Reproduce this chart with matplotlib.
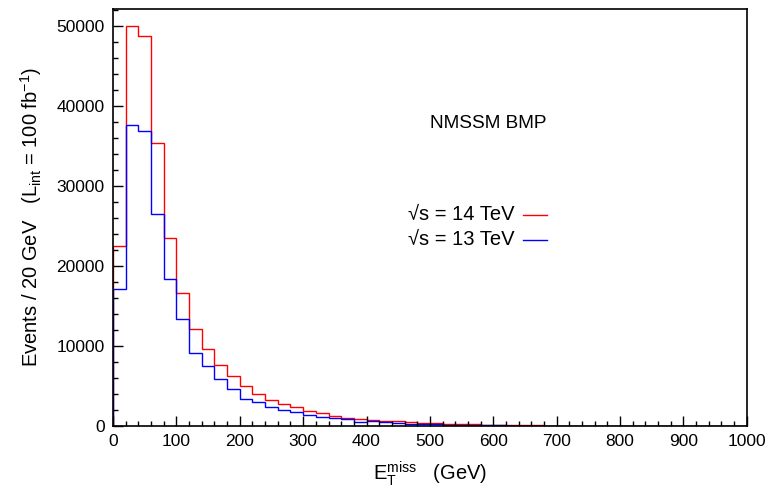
import numpy as np
import matplotlib.pyplot as plt
from matplotlib.ticker import MultipleLocator

plt.rcParams['font.family'] = ['Liberation Sans', 'DejaVu Sans']
plt.rcParams['mathtext.default'] = 'regular'

# MET histogram, 20 GeV bins from 0 to 1000 GeV
edges = np.arange(0, 1001, 20)

# sqrt(s) = 14 TeV
red = [22540, 50000, 48730, 35370, 23450, 16560, 12120, 9670, 7680, 6270,
       5020, 4000, 3260, 2740, 2350, 1830, 1580, 1200, 1040, 910,
       790, 660, 580, 460, 370, 320, 270, 230, 190, 160,
       130, 110, 90, 75, 60, 50, 42, 35, 30, 25,
       21, 18, 15, 13, 11, 9, 8, 7, 6, 5]

# sqrt(s) = 13 TeV
blue = [17150, 37570, 36900, 26490, 18390, 13320, 9180, 7470, 5850, 4570,
        3400, 2970, 2350, 1950, 1720, 1410, 1120, 1000, 870, 540,
        620, 460, 330, 280, 230, 190, 160, 130, 110, 90,
        70, 60, 50, 40, 33, 27, 22, 18, 15, 12,
        10, 8, 7, 6, 5, 4, 3, 3, 2, 2]

fig = plt.figure(figsize=(7.71, 4.90), dpi=100)
ax = fig.add_axes([0.1466, 0.1306, 0.822, 0.851])

ax.stairs(red, edges, color='#ff0000', lw=1.0, baseline=0)
ax.stairs(blue, edges, color='#0000ff', lw=1.0, baseline=0)

ax.set_xlim(0, 1000)
ax.set_ylim(0, 52100)
ax.xaxis.set_major_locator(MultipleLocator(100))
ax.xaxis.set_minor_locator(MultipleLocator(20))
ax.yaxis.set_major_locator(MultipleLocator(10000))
ax.yaxis.set_minor_locator(MultipleLocator(2000))
ax.tick_params(which='both', direction='in', labelsize=12.5, width=1,
               top=False, right=False)
ax.tick_params(which='major', length=7, pad=6)
ax.tick_params(which='minor', length=3.5)
for s in ax.spines.values():
    s.set_linewidth(1.2)

ax.set_xlabel('E$_T^{miss}$   (GeV)', fontsize=14.5, labelpad=7)
ax.set_ylabel('Events / 20 GeV   (L$_{int}$ = 100 fb$^{-1}$)', fontsize=14.5, labelpad=9)

ax.text(592, 37750, 'NMSSM BMP', fontsize=13.7, ha='center', va='center')

# legend drawn like the original: text then short line
labels = ['\u221as = 14 TeV', '\u221as = 13 TeV']
colors = ['#ff0000', '#0000ff']
ly = [26400, 23250]
for lab, c, y in zip(labels, colors, ly):
    ax.text(634, y, lab, fontsize=14.5, ha='right', va='center')
    ax.plot([647, 685], [y, y], color=c, lw=1.0)

fig.savefig('out.png', dpi=100)
